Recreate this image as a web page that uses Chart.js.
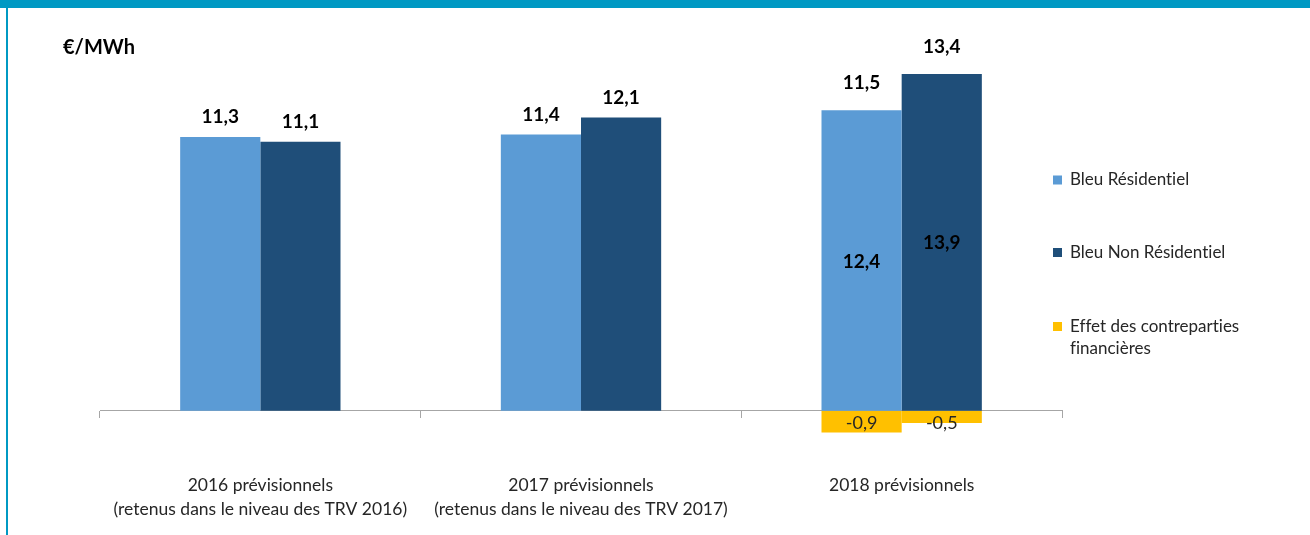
<!DOCTYPE html>
<html lang="fr">
<head>
<meta charset="utf-8">
<title>Contreparties financières</title>
<script src="https://cdn.jsdelivr.net/npm/chart.js@4/dist/chart.umd.min.js"></script>
<style>
  html, body { margin: 0; padding: 0; background: #fff; }
  .frame { position: relative; width: 1310px; height: 535px; overflow: hidden; }
  .band { position: absolute; left: 0; top: 0; width: 1310px; height: 8px; background: #0099c3; }
  .edge { position: absolute; left: 6px; top: 0; width: 2px; height: 535px; background: #0099c3; }
  .unit { position: absolute; left: 63px; top: 34px; font: bold 20px Lato, sans-serif; color: #000; }
  canvas { position: absolute; left: 0; top: 0; }
</style>
</head>
<body>
<div class="frame">
  <canvas id="chart" width="1310" height="535"></canvas>
  <div class="band"></div>
  <div class="edge"></div>
  <div class="unit">€/MWh</div>
</div>
<script>
"use strict";

const categories = [
  ["2016 prévisionnels", "(retenus dans le niveau des TRV 2016)"],
  ["2017 prévisionnels", "(retenus dans le niveau des TRV 2017)"],
  ["2018 prévisionnels"],
];
const residentiel = [11.3, 11.4, 12.4];
const nonResidentiel = [11.1, 12.1, 13.9];
const effetResidentiel = [0, 0, -0.9];
const effetNonResidentiel = [0, 0, -0.5];
const legendNames = [
  ["Bleu Résidentiel"],
  ["Bleu Non Résidentiel"],
  ["Effet des contreparties", "financières"],
];

const FONT = "Lato, sans-serif";
const colors = ["#5b9bd5", "#1f4e79", "#ffc000"];

function fmt(v) {
  return (Math.round(v * 10) / 10).toFixed(1).replace(".", ",");
}

// labels on the bars
const valueLabels = {
  id: "valueLabels",
  afterDatasetsDraw(chart) {
    const ctx = chart.ctx;
    ctx.save();
    ctx.textAlign = "center";
    ctx.textBaseline = "middle";
    [[0, 2], [1, 3]].forEach(([main, effet]) => {
      const mainMeta = chart.getDatasetMeta(main);
      const effetMeta = chart.getDatasetMeta(effet);
      mainMeta.data.forEach((bar, i) => {
        const v = chart.data.datasets[main].data[i];
        const e = chart.data.datasets[effet].data[i] || 0;
        ctx.font = "bold 19px " + FONT;
        ctx.fillStyle = "#000";
        ctx.fillText(fmt(v + e), bar.x, bar.y - (e ? 27 : 20));
        if (e) {
          ctx.fillText(fmt(v), bar.x, (bar.y + bar.base) / 2 + 1);
          const eb = effetMeta.data[i];
          ctx.font = "18px " + FONT;
          ctx.fillStyle = "#262626";
          ctx.fillText(fmt(e), eb.x, eb.base + 12);
        }
      });
    });
    ctx.restore();
  },
};

// legend on the right
const sideLegend = {
  id: "sideLegend",
  afterDraw(chart) {
    const ctx = chart.ctx;
    ctx.save();
    ctx.textBaseline = "middle";
    ctx.textAlign = "left";
    ctx.textRendering = "optimizeSpeed";
    ctx.font = "17px " + FONT;
    const ys = [180, 252.5, 326.5];
    legendNames.forEach((lines, i) => {
      ctx.fillStyle = chart.data.datasets[i].backgroundColor;
      ctx.fillRect(1053, ys[i] - 4.5, 9, 9);
      ctx.fillStyle = "#262626";
      lines.forEach((t, k) => ctx.fillText(t, 1070, ys[i] + k * 22));
    });
    ctx.restore();
  },
};

const ctxChart = document.getElementById("chart");

new Chart(ctxChart, {
  type: "bar",
  data: {
    labels: categories,
    datasets: [
      {
        label: legendNames[0].join(" "),
        data: residentiel,
        backgroundColor: colors[0],
        stack: "res",
      },
      {
        label: legendNames[1].join(" "),
        data: nonResidentiel,
        backgroundColor: colors[1],
        stack: "nonres",
      },
      {
        label: legendNames[2].join(" "),
        data: effetResidentiel,
        backgroundColor: colors[2],
        stack: "res",
      },
      {
        label: legendNames[2].join(" "),
        data: effetNonResidentiel,
        backgroundColor: colors[2],
        stack: "nonres",
      },
    ],
  },
  options: {
    responsive: false,
    animation: false,
    devicePixelRatio: 1,
    barPercentage: 1,
    categoryPercentage: 0.5,
    layout: {
      padding: { left: 100, right: 248, top: 23, bottom: 100 },
    },
    scales: {
      x: {
        stacked: true,
        position: { y: 0 },
        grid: {
          offset: true,
          drawOnChartArea: false,
          tickLength: 7,
          color: "#a6a6a6",
        },
        border: { color: "#a6a6a6" },
        ticks: {
          padding: 56,
          color: "#262626",
          font: { family: FONT, size: 17.5, lineHeight: 1.37 },
        },
      },
      y: {
        stacked: true,
        display: false,
        min: -1,
        max: 16,
      },
    },
    plugins: {
      legend: { display: false },
      tooltip: { enabled: false },
    },
  },
  plugins: [valueLabels, sideLegend],
});
</script>
</body>
</html>
